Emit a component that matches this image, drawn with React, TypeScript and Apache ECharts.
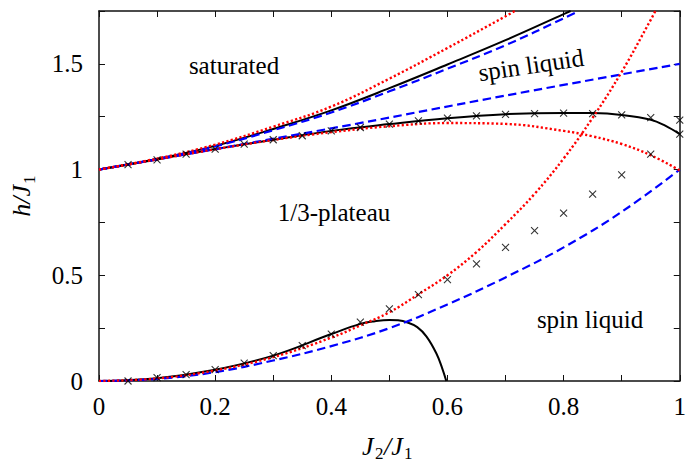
import React, { useEffect, useRef } from "react";
import * as echarts from "echarts";

// ---- data ----
const satBlack = [[0, 1], [0.1, 1.05], [0.2, 1.112], [0.3, 1.192], [0.4, 1.28], [0.5, 1.385], [0.6, 1.497], [0.7, 1.612], [0.8, 1.735], [0.812, 1.75]];
const satBlue = [[0, 1], [0.1, 1.05], [0.2, 1.11], [0.3, 1.186], [0.4, 1.27], [0.5, 1.37], [0.6, 1.477], [0.7, 1.588], [0.8, 1.715], [0.826, 1.75]];
const satRed = [[0, 1], [0.1, 1.052], [0.2, 1.118], [0.3, 1.203], [0.4, 1.298], [0.5, 1.43], [0.6, 1.575], [0.7, 1.725], [0.716, 1.75]];
const midBlue = [[0, 1], [0.4, 1.195], [0.7, 1.35], [1, 1.5]];
const midBlack = [[0, 1], [0.1, 1.048], [0.2, 1.097], [0.3, 1.141], [0.4, 1.183], [0.5, 1.215], [0.6, 1.243], [0.7, 1.262], [0.8, 1.268], [0.85, 1.267], [0.9, 1.258], [0.95, 1.236], [0.975, 1.208], [1, 1.168]];
const midRed = [[0, 1], [0.1, 1.048], [0.2, 1.096], [0.3, 1.14], [0.4, 1.177], [0.5, 1.205], [0.6, 1.22], [0.7, 1.216], [0.8, 1.183], [0.85, 1.157], [0.9, 1.121], [0.95, 1.068], [1, 0.996]];
const lowRed = [[0, 0], [0.1, 0.012], [0.2, 0.05], [0.3, 0.113], [0.4, 0.205], [0.45, 0.263], [0.5, 0.325], [0.55, 0.41], [0.6, 0.5], [0.65, 0.61], [0.7, 0.742], [0.75, 0.885], [0.8, 1.052], [0.85, 1.245], [0.9, 1.462], [0.95, 1.708], [0.958, 1.75]];
const lowBlue = [[0, 0], [0.1, 0.01], [0.2, 0.042], [0.3, 0.097], [0.4, 0.165], [0.5, 0.25], [0.6, 0.362], [0.7, 0.49], [0.8, 0.632], [0.9, 0.8], [1, 1]];
const lowBlack = [[0, 0], [0.1, 0.013], [0.2, 0.053], [0.3, 0.12], [0.4, 0.222], [0.45, 0.27], [0.475, 0.283], [0.5, 0.289], [0.515, 0.287], [0.53, 0.278], [0.548, 0.255], [0.564, 0.21], [0.581, 0.13], [0.591, 0.06], [0.598, 0]];

const crossXUpper = [0.05, 0.1, 0.15, 0.2, 0.25, 0.3, 0.35, 0.4, 0.45, 0.5, 0.55, 0.6, 0.65, 0.7, 0.75, 0.8, 0.85, 0.9, 0.95, 1.0, 1.0];
const crossYUpper = [1.023, 1.046, 1.073, 1.097, 1.12, 1.141, 1.16, 1.183, 1.199, 1.215, 1.23, 1.243, 1.254, 1.261, 1.265, 1.267, 1.265, 1.259, 1.246, 1.234, 1.168];
const crossXLower = [0.05, 0.1, 0.15, 0.2, 0.25, 0.3, 0.35, 0.4, 0.45, 0.5, 0.55, 0.6, 0.65, 0.7, 0.75, 0.8, 0.85, 0.9, 0.95];
const crossYLower = [0, 0.016, 0.03, 0.054, 0.085, 0.12, 0.167, 0.222, 0.278, 0.341, 0.409, 0.479, 0.554, 0.632, 0.711, 0.794, 0.884, 0.975, 1.073];

const xLabels = ["0", "0.2", "0.4", "0.6", "0.8", "1"];
const yLabels = ["0", "0.5", "1", "1.5"];

const FONT = "Liberation Serif";
const BLACK = "#000000";
const BLUE = "#0000ff";
const RED = "#ff0000";

export default function App() {
  const ref = useRef<HTMLDivElement>(null);
  useEffect(() => {
    if (!ref.current) return;
    const chart = echarts.init(ref.current, null, { renderer: "svg" });

    const xFmt = (v: number) => {
      const r = Math.round(v * 10);
      return r % 2 === 0 ? xLabels[r / 2] : "";
    };
    const yFmt = (v: number) => {
      const r = Math.round(v * 4);
      return r % 2 === 0 && r / 2 < yLabels.length ? yLabels[r / 2] : "";
    };
    const axisLine = { show: true, onZero: false, lineStyle: { color: "#111", width: 1.5 } };
    const axisTick = { show: true, inside: true, length: 6, lineStyle: { color: "#111", width: 1 } };
    const labelStyle = { color: "#000", fontFamily: FONT, fontSize: 25 };

    const lineSeries = (data: number[][], color: string, kind: string, z: number) => ({
      type: "line",
      data,
      showSymbol: false,
      symbol: "none",
      smooth: 0.4,
      z,
      silent: true,
      lineStyle: {
        color,
        width: kind === "solid" ? 2 : kind === "dashed" ? 2.2 : 2.4,
        type: kind === "solid" ? "solid" : kind === "dashed" ? [8.5, 4.5] : [2.2, 2.3],
        cap: "butt",
      },
    });

    const crossSeries = (xs: number[], ys: number[]) => ({
      type: "scatter",
      data: xs.map((x, i) => [x, ys[i]]),
      symbol: "path://M0,0L10,10M10,0L0,10",
      symbolSize: 7,
      z: 10,
      silent: true,
      itemStyle: { color: "transparent", borderColor: "#000", borderWidth: 1.1 },
    });

    const txt = (text: string, x: number, y: number, size: number, italic: boolean) => ({
      type: "text",
      x,
      y,
      style: {
        text,
        fontFamily: FONT,
        fontSize: size,
        fontStyle: italic ? "italic" : "normal",
        fill: "#000",
        align: "left",
        verticalAlign: "middle",
      },
    });

    chart.setOption({
      animation: false,
      backgroundColor: "#ffffff",
      grid: { left: 99, right: 9, top: 11, bottom: 81 },
      xAxis: [
        { type: "value", position: "bottom", min: 0, max: 1, interval: 0.1, axisLine, axisTick, splitLine: { show: false },
          axisLabel: { ...labelStyle, margin: 13, formatter: xFmt } },
        { type: "value", position: "top", min: 0, max: 1, interval: 0.1, axisLine, axisTick, splitLine: { show: false },
          axisLabel: { show: false } },
      ],
      yAxis: [
        { type: "value", position: "left", min: 0, max: 1.75, interval: 0.25, axisLine, axisTick, splitLine: { show: false },
          axisLabel: { ...labelStyle, margin: 16, formatter: yFmt },
          name: "{i|h/J}{s|1}",
          nameLocation: "middle",
          nameRotate: 90,
          nameGap: 61,
          nameTextStyle: {
            color: "#000",
            rich: {
              i: { fontFamily: FONT, fontSize: 26, fontStyle: "italic", color: "#000" },
              s: { fontFamily: FONT, fontSize: 17, color: "#000", padding: [16, 0, 0, 1] },
            },
          },
        },
        { type: "value", position: "right", min: 0, max: 1.75, interval: 0.25, axisLine, axisTick, splitLine: { show: false },
          axisLabel: { show: false } },
      ],
      series: [
        lineSeries(satBlack, BLACK, "solid", 2),
        lineSeries(midBlack, BLACK, "solid", 2),
        lineSeries(lowBlack, BLACK, "solid", 2),
        lineSeries(satBlue, BLUE, "dashed", 3),
        lineSeries(midBlue, BLUE, "dashed", 3),
        lineSeries(lowBlue, BLUE, "dashed", 3),
        lineSeries(satRed, RED, "dotted", 4),
        lineSeries(midRed, RED, "dotted", 4),
        lineSeries(lowRed, RED, "dotted", 4),
        crossSeries(crossXUpper, crossYUpper),
        crossSeries(crossXLower, crossYLower),
      ],
      graphic: [
        { type: "text", x: 234, y: 65, style: { text: "saturated", fontFamily: FONT, fontSize: 25, fill: "#000", align: "center", verticalAlign: "middle" } },
        { type: "text", x: 531, y: 65, rotation: 0.148, style: { text: "spin liquid", fontFamily: FONT, fontSize: 25, fill: "#000", align: "center", verticalAlign: "middle" } },
        { type: "text", x: 334, y: 212, style: { text: "1/3-plateau", fontFamily: FONT, fontSize: 25, fill: "#000", align: "center", verticalAlign: "middle" } },
        { type: "text", x: 590, y: 319, style: { text: "spin liquid", fontFamily: FONT, fontSize: 25, fill: "#000", align: "center", verticalAlign: "middle" } },
        // x-axis title J2/J1
        txt("J", 362, 446.2, 26, true),
        txt("2", 375, 453.3, 17, false),
        txt("/J", 384, 446.2, 26, true),
        txt("1", 404, 453.3, 17, false),
      ],
    });
    return () => chart.dispose();
  }, []);
  return (
    <div
      ref={ref}
      style={{ position: "absolute", left: 0, top: 0, width: 689, height: 462, background: "#fff" }}
    />
  );
}
